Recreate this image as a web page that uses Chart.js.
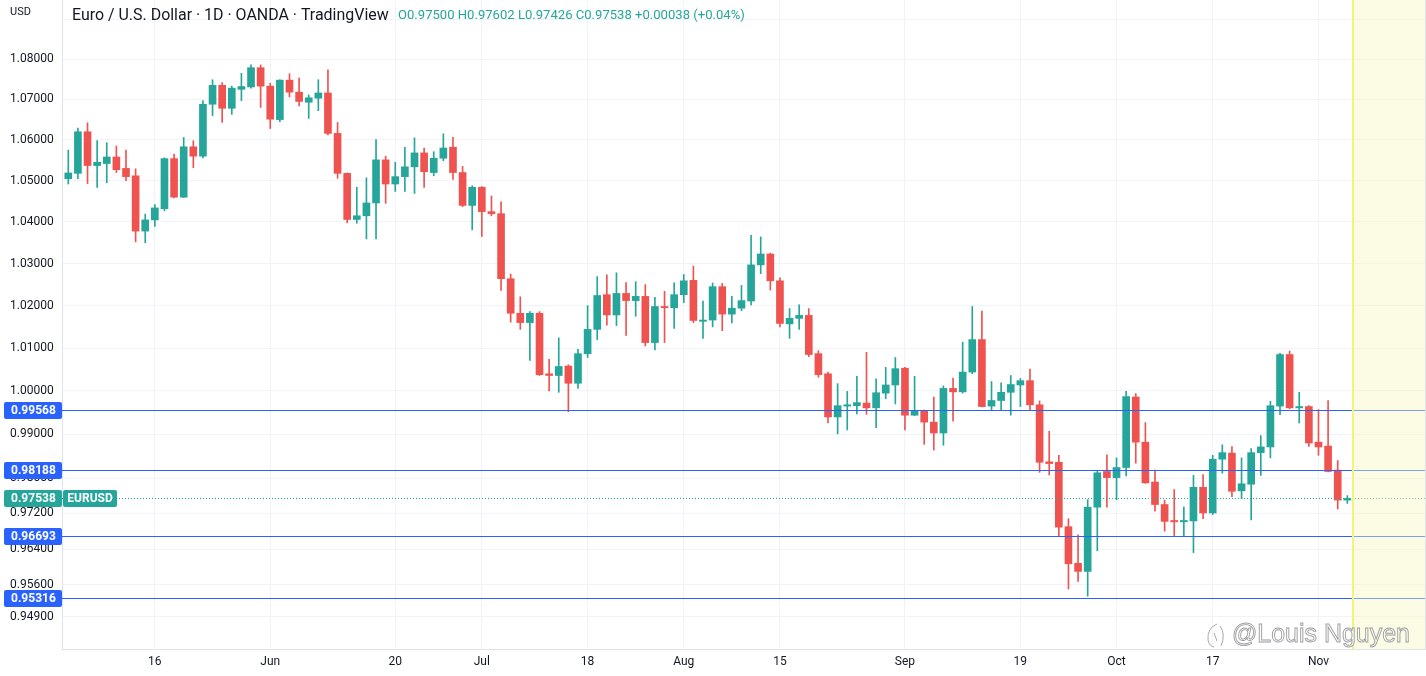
<!DOCTYPE html>
<html>
<head>
<meta charset="utf-8">
<script src="https://cdn.jsdelivr.net/npm/chart.js@4.4.0/dist/chart.umd.min.js"></script>
<style>
html,body{margin:0;padding:0;background:#ffffff;overflow:hidden;}
#wrap{width:1426px;height:676px;position:relative;}
</style>
</head>
<body>
<div id="wrap"><canvas id="c" width="1426" height="676"></canvas></div>
<script>
// ---------- DATA ----------
const firstDay = '2022-05-03';
const lastDay = '2022-11-04';
const dates = [];
for (let d = new Date(firstDay + 'T00:00:00Z'); d <= new Date(lastDay + 'T00:00:00Z'); d.setUTCDate(d.getUTCDate() + 1)) {
  const wd = d.getUTCDay();
  if (wd !== 0 && wd !== 6) dates.push(d.toISOString().slice(0, 10));
}

const opens = [
1.0505,1.0518,1.0620,1.0537,1.0542,1.0558,1.0530,1.0512,1.0378,1.0405,
1.0432,1.0554,1.0460,1.0583,1.0560,1.0688,1.0735,1.0678,1.0725,1.0731,
1.0779,1.0733,1.0650,1.0748,1.0718,1.0693,1.0703,1.0716,1.0616,1.0518,
1.0406,1.0415,1.0446,1.0551,1.0492,1.0510,1.0534,1.0568,1.0520,1.0555,
1.0582,1.0520,1.0440,1.0484,1.0425,1.0420,1.0264,1.0182,1.0160,1.0182,
1.0040,1.0036,1.0058,1.0018,1.0087,1.0144,1.0226,1.0178,1.0229,1.0212,
1.0222,1.0113,1.0198,1.0195,1.0226,1.0260,1.0163,1.0166,1.0245,1.0180,
1.0194,1.0211,1.0297,1.0323,1.0259,1.0157,1.0170,1.0177,1.0087,1.0040,
0.9940,0.9965,0.9966,0.9972,0.9961,0.9995,1.0014,1.0053,0.9944,0.9954,
0.9928,0.9903,1.0006,0.9998,1.0044,1.0120,0.9965,0.9978,0.9997,1.0014,
1.0024,0.9968,0.9837,0.9836,0.9690,0.9608,0.9590,0.9734,0.9815,0.9801,
0.9824,0.9986,0.9882,0.9791,0.9740,0.9704,0.9701,0.9703,0.9779,0.9721,
0.9843,0.9857,0.9771,0.9786,0.9858,0.9871,0.9965,1.0085,0.9961,0.9964,
0.9882,0.9873,0.9818,0.97500
];
const highs = [
1.0575,1.0629,1.0642,1.0598,1.0593,1.0585,1.0575,1.0529,1.0419,1.0442,
1.0556,1.0565,1.0606,1.0598,1.0697,1.0749,1.0742,1.0733,1.0765,1.0786,
1.0786,1.0740,1.0749,1.0764,1.0753,1.0711,1.0749,1.0774,1.0643,1.0519,
1.0484,1.0507,1.0601,1.0560,1.0545,1.0582,1.0605,1.0580,1.0571,1.0615,
1.0606,1.0535,1.0488,1.0486,1.0463,1.0449,1.0275,1.0221,1.0186,1.0186,
1.0074,1.0124,1.0061,1.0097,1.0200,1.0269,1.0273,1.0278,1.0255,1.0257,
1.0250,1.0220,1.0234,1.0254,1.0274,1.0294,1.0211,1.0254,1.0253,1.0222,
1.0248,1.0368,1.0364,1.0325,1.0266,1.0193,1.0202,1.0193,1.0094,1.0044,
1.0017,0.9999,1.0034,1.0090,1.0028,1.0055,1.0078,1.0055,1.0034,0.9956,
0.9986,1.0012,1.0030,1.0114,1.0198,1.0187,1.0022,1.0019,1.0036,1.0029,
1.0051,0.9977,0.9907,0.9852,0.9708,0.9672,0.9751,0.9817,0.9853,0.9846,
0.9999,0.9994,0.9927,0.9818,0.9750,0.9774,0.9734,0.9806,0.9808,0.9852,
0.9876,0.9872,0.9846,0.9867,0.9897,0.9976,1.0088,1.0093,0.9997,0.9966,
0.9957,0.9978,0.9840,0.97602
];
const lows = [
1.0492,1.0505,1.0493,1.0484,1.0495,1.0520,1.0500,1.0352,1.0350,1.0389,
1.0427,1.0458,1.0459,1.0532,1.0556,1.0660,1.0643,1.0663,1.0697,1.0728,
1.0680,1.0628,1.0645,1.0706,1.0684,1.0653,1.0672,1.0612,1.0506,1.0398,
1.0397,1.0359,1.0359,1.0445,1.0474,1.0474,1.0469,1.0484,1.0512,1.0549,
1.0503,1.0437,1.0381,1.0365,1.0415,1.0236,1.0161,1.0144,1.0071,1.0036,
1.0000,0.9997,0.9952,1.0006,1.0078,1.0120,1.0154,1.0153,1.0130,1.0175,
1.0105,1.0096,1.0113,1.0146,1.0207,1.0160,1.0123,1.0150,1.0141,1.0159,
1.0188,1.0202,1.0276,1.0237,1.0150,1.0123,1.0144,1.0080,1.0032,0.9926,
0.9901,0.9910,0.9947,0.9946,0.9915,0.9982,0.9970,0.9910,0.9943,0.9877,
0.9864,0.9875,0.9930,0.9995,1.0040,0.9963,0.9955,0.9955,0.9944,0.9964,
0.9955,0.9813,0.9807,0.9670,0.9551,0.9568,0.9535,0.9636,0.9734,0.9751,
0.9805,0.9834,0.9788,0.9725,0.9680,0.9668,0.9668,0.9632,0.9708,0.9717,
0.9811,0.9758,0.9753,0.9705,0.9806,0.9846,0.9945,0.9959,0.9926,0.9872,
0.9852,0.9814,0.9730,0.97426
];
const closes = [
1.0519,1.0620,1.0537,1.0545,1.0558,1.0527,1.0510,1.0378,1.0405,1.0434,
1.0554,1.0460,1.0583,1.0560,1.0688,1.0735,1.0678,1.0728,1.0732,1.0779,
1.0733,1.0651,1.0748,1.0718,1.0695,1.0704,1.0716,1.0616,1.0518,1.0406,
1.0415,1.0446,1.0551,1.0492,1.0510,1.0534,1.0568,1.0522,1.0555,1.0580,
1.0520,1.0440,1.0484,1.0425,1.0420,1.0264,1.0182,1.0160,1.0182,1.0038,
1.0036,1.0057,1.0018,1.0087,1.0144,1.0224,1.0178,1.0229,1.0212,1.0222,
1.0113,1.0198,1.0195,1.0226,1.0259,1.0165,1.0166,1.0245,1.0180,1.0194,
1.0212,1.0297,1.0323,1.0259,1.0158,1.0170,1.0177,1.0085,1.0038,0.9940,
0.9966,0.9968,0.9973,0.9961,0.9996,1.0014,1.0052,0.9944,0.9954,0.9928,
0.9903,1.0006,0.9998,1.0044,1.0120,0.9964,0.9978,0.9997,1.0015,1.0024,
0.9968,0.9836,0.9833,0.9689,0.9607,0.9590,0.9734,0.9812,0.9801,0.9824,
0.9987,0.9882,0.9789,0.9740,0.9702,0.9701,0.9704,0.9779,0.9721,0.9843,
0.9858,0.9770,0.9787,0.9858,0.9871,0.9966,1.0085,0.9961,0.9964,0.9880,
0.9871,0.9815,0.9750,0.97538
];

const xTickDates  = ['2022-05-16','2022-06-01','2022-06-20','2022-07-01','2022-07-18','2022-08-01','2022-08-15','2022-09-01','2022-09-19','2022-10-03','2022-10-17','2022-11-01'];
const xTickLabels = ['16','Jun','20','Jul','18','Aug','15','Sep','19','Oct','17','Nov'];
const yTickValues = [1.09,1.08,1.07,1.06,1.05,1.04,1.03,1.02,1.01,1.00,0.99,0.98,0.972,0.964,0.956,0.949];
const yHiddenLabels = [1.09];
const levelValues = [0.99568,0.98188,0.96693,0.95316];
const lastPrice = 0.97538;
const symbolName = 'EURUSD';
const currencyLabel = 'USD';
const titleText = 'Euro / U.S. Dollar · 1D · OANDA · TradingView';
const ohlcText = 'O0.97500 H0.97602 L0.97426 C0.97538 +0.00038 (+0.04%)';
const watermarkText = '@Louis Nguyen';

// ---------- STYLE ----------
const UP = '#26a69a', DOWN = '#ef5350', LEVEL = '#2962ff', TEXT = '#131722';
const GRID = '#f0f3fa', BORDER = '#e0e3eb';
const FONT = 'Roboto, "Liberation Sans", sans-serif';
Chart.defaults.font.family = FONT;

const candleColors = opens.map((o, i) => closes[i] >= o ? UP : DOWN);
const wickData = dates.map((d, i) => ({x: i, y: [lows[i], highs[i]]}));
const bodyData = dates.map((d, i) => ({x: i, y: [Math.min(opens[i], closes[i]), Math.max(opens[i], closes[i])]}));
const xTickIdx = xTickDates.map(d => dates.indexOf(d));
const xLabelMap = {};
xTickIdx.forEach((v, k) => { xLabelMap[v] = xTickLabels[k]; });
const highlightFrom = dates.length - 1 + 0.62;

function fitSize(ctx, text, target, weight, family) {
  ctx.font = weight + ' 20px ' + family;
  return 20 * target / ctx.measureText(text).width;
}
function rrect(ctx, x, y, w, h, r) {
  ctx.beginPath();
  ctx.moveTo(x + r, y); ctx.lineTo(x + w - r, y); ctx.quadraticCurveTo(x + w, y, x + w, y + r);
  ctx.lineTo(x + w, y + h - r); ctx.quadraticCurveTo(x + w, y + h, x + w - r, y + h);
  ctx.lineTo(x + r, y + h); ctx.quadraticCurveTo(x, y + h, x, y + h - r);
  ctx.lineTo(x, y + r); ctx.quadraticCurveTo(x, y, x + r, y); ctx.closePath();
}

const tvPlugin = {
  id: 'tv',
  beforeDraw(chart) {
    const {ctx} = chart;
    ctx.save();
    ctx.fillStyle = '#ffffff';
    ctx.fillRect(0, 0, chart.width, chart.height);
    ctx.restore();
  },
  afterDatasetsDraw(chart) {
    const {ctx, chartArea: a, scales: {x, y}} = chart;
    ctx.save();
    ctx.lineWidth = 1;
    ctx.strokeStyle = LEVEL;
    levelValues.forEach(v => {
      const py = Math.round(y.getPixelForValue(v)) + 0.5;
      ctx.beginPath(); ctx.moveTo(a.left, py); ctx.lineTo(a.right, py); ctx.stroke();
    });
    const pp = Math.round(y.getPixelForValue(lastPrice)) + 0.5;
    ctx.strokeStyle = UP;
    ctx.setLineDash([1, 2]);
    ctx.beginPath(); ctx.moveTo(a.left, pp); ctx.lineTo(a.right, pp); ctx.stroke();
    ctx.setLineDash([]);
    // highlighted future zone
    const xs = x.getPixelForValue(highlightFrom);
    ctx.fillStyle = 'rgba(248,248,190,0.42)';
    ctx.fillRect(xs, a.top, a.right - xs, a.bottom - a.top);
    ctx.fillStyle = '#f2f27e';
    ctx.fillRect(Math.round(xs) - 1, a.top, 2, a.bottom - a.top);
    ctx.restore();
  },
  afterDraw(chart) {
    const {ctx, scales: {y}} = chart;
    ctx.save();
    // level price boxes
    ctx.textBaseline = 'middle';
    levelValues.forEach(v => {
      const py = Math.round(y.getPixelForValue(v)) + 0.5;
      ctx.fillStyle = LEVEL;
      rrect(ctx, 4, py - 8.5, 58, 17, 2); ctx.fill();
      ctx.fillStyle = '#ffffff';
      ctx.font = 'bold 12px ' + FONT;
      ctx.textAlign = 'left';
      ctx.fillText(v.toFixed(5), 11, py + 0.5);
    });
    // last price boxes
    const pp = Math.round(y.getPixelForValue(lastPrice)) + 0.5;
    ctx.fillStyle = UP;
    rrect(ctx, 4, pp - 8.5, 58, 17, 2); ctx.fill();
    rrect(ctx, 63, pp - 8.5, 54, 17, 2); ctx.fill();
    ctx.fillStyle = '#ffffff';
    ctx.font = 'bold 12px ' + FONT;
    ctx.textAlign = 'left';
    ctx.fillText(lastPrice.toFixed(5), 11, pp + 0.5);
    ctx.textAlign = 'center';
    ctx.fillText(symbolName, 90, pp + 0.5);

    // header
    ctx.textAlign = 'left';
    ctx.fillStyle = TEXT;
    ctx.font = '11px ' + FONT;
    ctx.fillText(currencyLabel, 10, 12);
    let s = fitSize(ctx, titleText, 317, 'normal', FONT);
    ctx.font = s.toFixed(2) + 'px ' + FONT;
    ctx.fillStyle = TEXT;
    ctx.fillText(titleText, 72, 16);
    s = fitSize(ctx, ohlcText, 347, 'normal', FONT);
    ctx.font = s.toFixed(2) + 'px ' + FONT;
    ctx.fillStyle = UP;
    ctx.fillText(ohlcText, 398, 16);

    // watermark
    s = fitSize(ctx, watermarkText, 178, 'normal', '"Liberation Sans", sans-serif');
    ctx.font = s.toFixed(2) + 'px "Liberation Sans", sans-serif';
    ctx.fillStyle = 'rgba(255,255,255,0.9)';
    ctx.strokeStyle = 'rgba(140,140,140,0.85)';
    ctx.lineWidth = 0.9;
    ctx.fillText(watermarkText, 1232, 635);
    ctx.strokeText(watermarkText, 1232, 635);
    // logo
    ctx.beginPath();
    ctx.moveTo(1217, 624); ctx.quadraticCurveTo(1207, 628, 1208, 640); ctx.quadraticCurveTo(1209, 646, 1214, 647);
    ctx.moveTo(1220, 626); ctx.quadraticCurveTo(1226, 634, 1221, 646);
    ctx.moveTo(1214, 633); ctx.lineTo(1217, 641);
    ctx.stroke();

    // right frame line
    ctx.fillStyle = BORDER;
    ctx.fillRect(1425, 0, 1, chart.chartArea.bottom);
    ctx.restore();
  }
};

new Chart(document.getElementById('c'), {
  type: 'bar',
  data: {
    datasets: [
      {label: 'wick', data: wickData, backgroundColor: candleColors, barThickness: 1, grouped: false, borderWidth: 0, order: 2},
      {label: 'body', data: bodyData, backgroundColor: candleColors, barThickness: 7, grouped: false, borderWidth: 0, minBarLength: 1, order: 1}
    ]
  },
  options: {
    responsive: false,
    animation: false,
    events: [],
    layout: {padding: {left: 10, top: 0, right: 0, bottom: 0}},
    plugins: {legend: {display: false}, tooltip: {enabled: false}},
    scales: {
      x: {
        type: 'linear', bounds: 'data', offset: false,
        min: -0.655, max: 141.18,
        afterBuildTicks: s => { s.ticks = xTickIdx.map(v => ({value: v})); },
        afterFit: s => { s.height = 27; s.paddingLeft = 0; s.paddingRight = 0; },
        ticks: {autoSkip: false, maxRotation: 0, padding: 6, color: TEXT, font: {size: 12},
                callback: v => (xLabelMap[v] !== undefined ? xLabelMap[v] : '')},
        grid: {color: GRID, drawTicks: false, offset: false},
        border: {display: true, color: BORDER}
      },
      y: {
        type: 'logarithmic', position: 'left', bounds: 'data',
        min: 0.94189, max: 1.09497,
        afterBuildTicks: s => { s.ticks = yTickValues.map(v => ({value: v})); },
        afterFit: s => { s.width = 52; s.paddingTop = 0; s.paddingBottom = 0; },
        ticks: {autoSkip: false, crossAlign: 'far', color: TEXT, font: {size: 12},
                callback: v => (yHiddenLabels.includes(v) ? '' : Number(v).toFixed(5))},
        grid: {color: GRID, drawTicks: false},
        border: {display: true, color: BORDER}
      }
    }
  },
  plugins: [tvPlugin]
});
</script>
</body>
</html>
